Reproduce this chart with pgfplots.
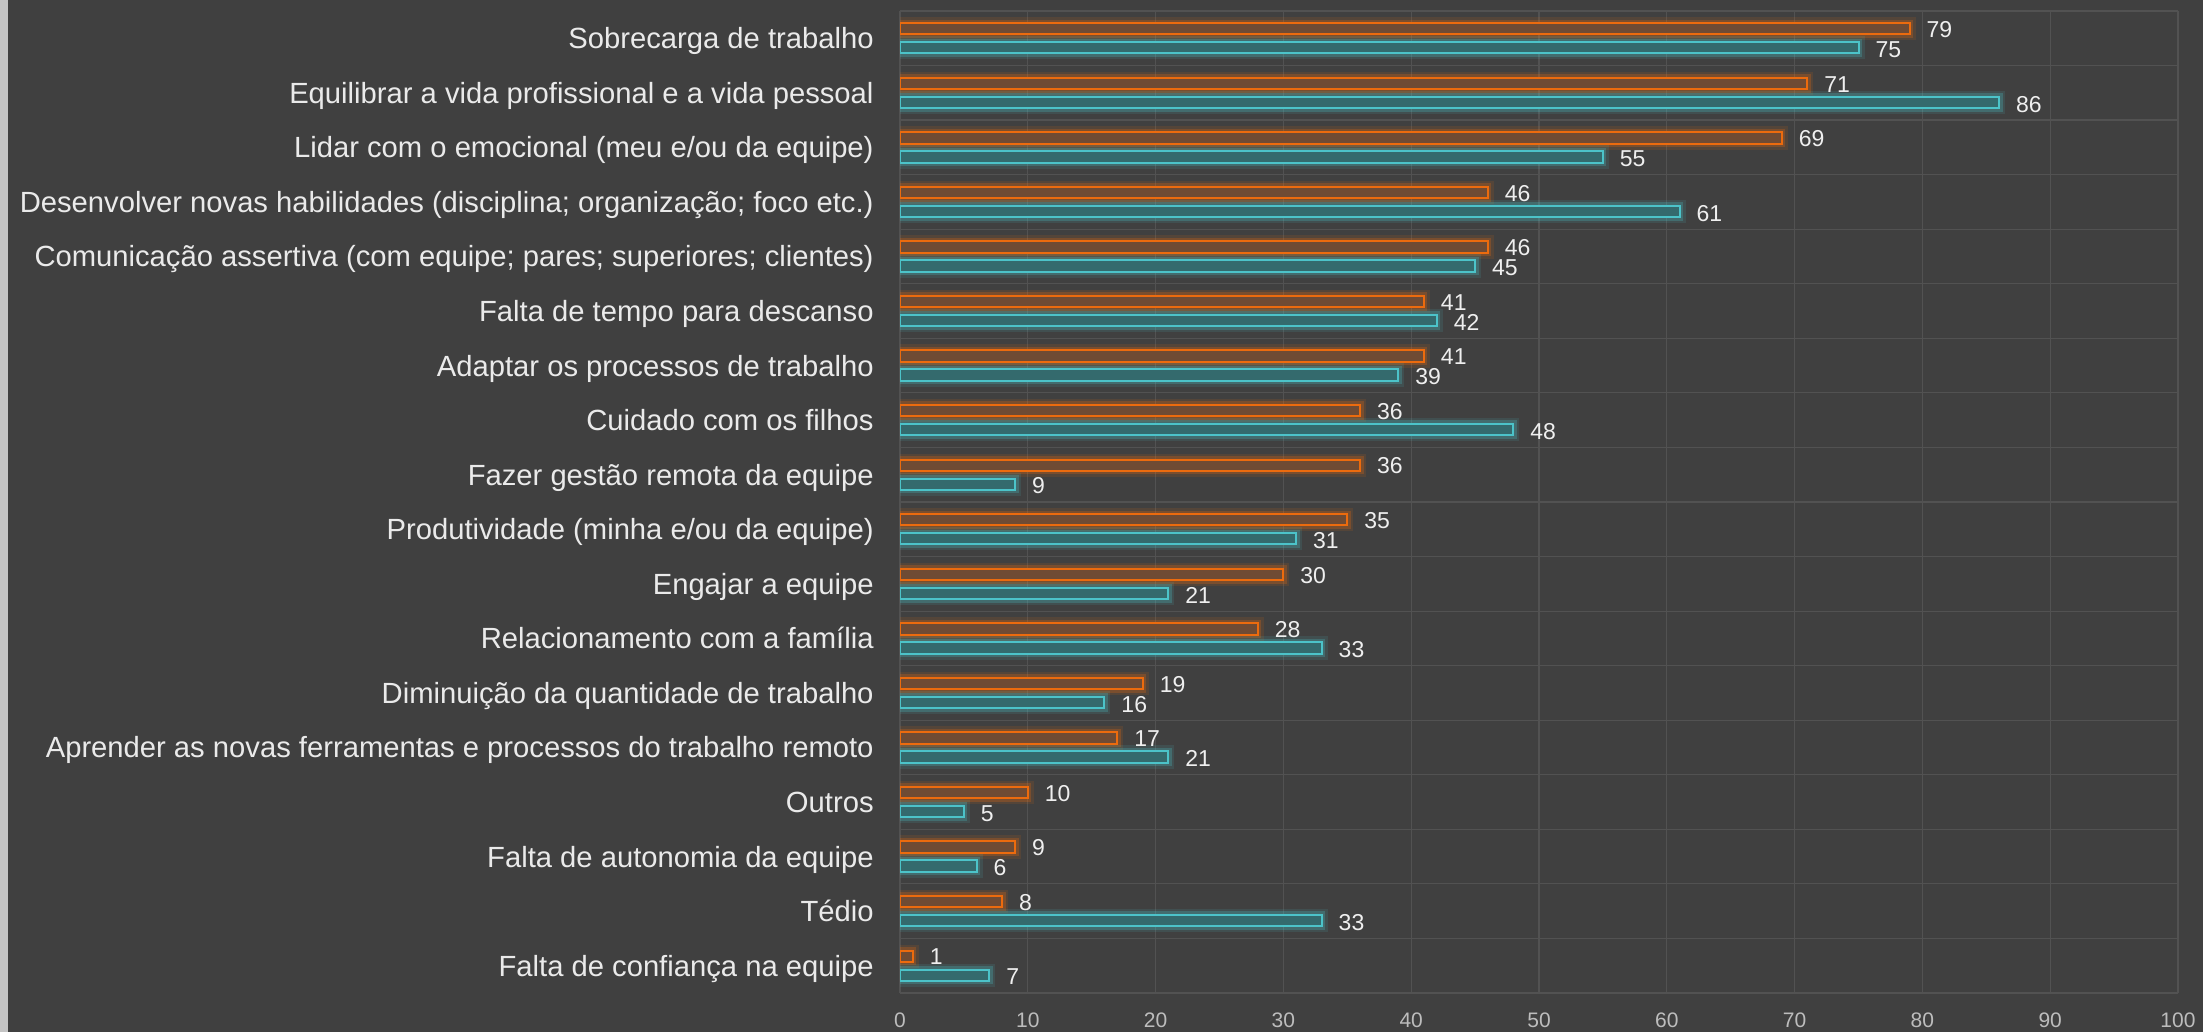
\documentclass[border=0pt]{standalone}
\usepackage{pgfplots}
\pgfplotsset{compat=1.18}
\usepackage{fontspec}
\setmainfont{Liberation Sans}

\definecolor{bg}{HTML}{404040}
\definecolor{strip}{HTML}{C4C4C4}
\definecolor{gridc}{HTML}{525252}
\definecolor{orline}{HTML}{EC6B0E}
\definecolor{orfill}{HTML}{6F4B34}
\definecolor{tealine}{HTML}{4CC3C9}
\definecolor{tealfill}{HTML}{346A6D}
\definecolor{labc}{HTML}{EAEAEA}
\definecolor{valc}{HTML}{EFEFEF}
\definecolor{tickc}{HTML}{BDBDBD}

\begin{document}
\begin{tikzpicture}
\useasboundingbox (0,0) rectangle (1101.5bp,516bp);
\fill[bg] (0,0) rectangle (1101.5bp,516bp);
\fill[strip] (0,0) rectangle (4bp,516bp);

\begin{axis}[
	at={(450bp,19.5bp)}, anchor=south west,
	scale only axis,
	width=639bp, height=491bp,
	xmin=0, xmax=100,
	ymin=-0.5, ymax=17.5,
	xtick={0,10,...,100},
	ytick={0,...,17},
	minor ytick={-0.5,0.5,...,17.5},
	yticklabels={
		Falta de confiança na equipe,
		Tédio,
		Falta de autonomia da equipe,
		Outros,
		Aprender as novas ferramentas e processos do trabalho remoto,
		Diminuição da quantidade de trabalho,
		Relacionamento com a família,
		Engajar a equipe,
		Produtividade (minha e/ou da equipe),
		Fazer gestão remota da equipe,
		Cuidado com os filhos,
		Adaptar os processos de trabalho,
		Falta de tempo para descanso,
		Comunicação assertiva (com equipe; pares; superiores; clientes),
		Desenvolver novas habilidades (disciplina; organização; foco etc.),
		Lidar com o emocional (meu e/ou da equipe),
		Equilibrar a vida profissional e a vida pessoal,
		Sobrecarga de trabalho},
	xmajorgrids, yminorgrids,
	major grid style={gridc, line width=0.6bp},
	minor grid style={gridc, line width=0.6bp},
	axis line style={draw=none},
	major tick length=0, minor tick length=0,
	tick style={draw=none},
	/pgf/number format/assume math mode=true,
	xticklabel style={font=\fontsize{10.5bp}{12bp}\selectfont, text=tickc,
		anchor=base, inner sep=0pt, yshift=-17.3bp},
	yticklabel style={font=\fontsize{14.6bp}{16bp}\selectfont, text=labc,
		anchor=base east, inner sep=0pt, xshift=-13bp, yshift=-5.2bp},
	bar width=5.7bp,
	point meta=x,
	nodes near coords,
	nodes near coords style={font=\fontsize{11.5bp}{13bp}\selectfont, text=valc,
		anchor=base west, inner sep=0pt, xshift=8bp},
]

% laranja (em cima)
\addplot[xbar, bar shift=4.75bp, draw=orline, fill=orfill, line width=1bp,
	preaction={draw=orline, draw opacity=0.12, line width=6bp},
	preaction={draw=orline, draw opacity=0.25, line width=3.5bp},
	nodes near coords style={yshift=0.4bp}]
coordinates {
	(79,17) (71,16) (69,15) (46,14) (46,13) (41,12) (41,11) (36,10) (36,9)
	(35,8) (30,7) (28,6) (19,5) (17,4) (10,3) (9,2) (8,1) (1,0)
};

% azul (embaixo)
\addplot[xbar, bar shift=-4.75bp, draw=tealine, fill=tealfill, line width=1bp,
	preaction={draw=tealine, draw opacity=0.12, line width=6bp},
	preaction={draw=tealine, draw opacity=0.25, line width=3.5bp},
	nodes near coords style={yshift=-9.6bp}]
coordinates {
	(75,17) (86,16) (55,15) (61,14) (45,13) (42,12) (39,11) (48,10) (9,9)
	(31,8) (21,7) (33,6) (16,5) (21,4) (5,3) (6,2) (33,1) (7,0)
};

\end{axis}
\end{tikzpicture}
\end{document}
